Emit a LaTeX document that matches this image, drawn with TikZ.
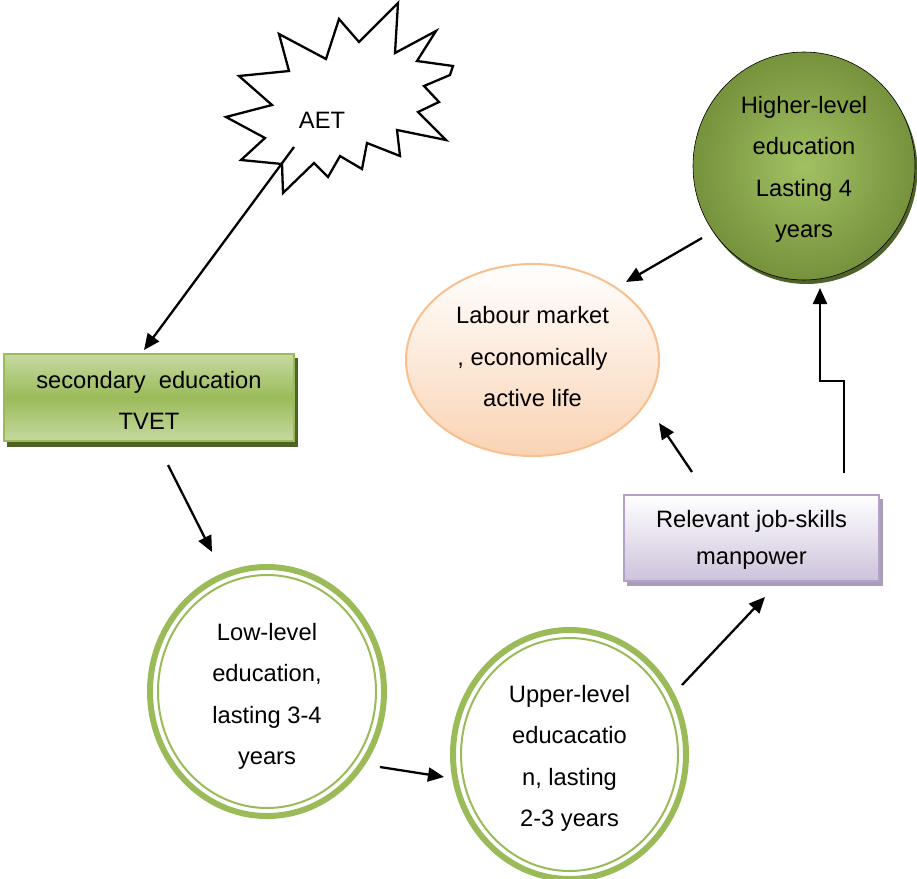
\documentclass[tikz,border=0pt]{standalone}
\usepackage{fontspec}
\setmainfont{Liberation Sans}
\usetikzlibrary{arrows.meta,shapes.geometric}
\definecolor{grn}{HTML}{9BBB59}
\definecolor{grnlt}{HTML}{C6D9A1}
\definecolor{grndk}{HTML}{4F6228}
\definecolor{grnmid}{HTML}{76923C}
\definecolor{grnhi}{HTML}{A2C163}
\definecolor{peach}{HTML}{F9BF8F}
\definecolor{peachlt}{HTML}{FAD3B3}
\definecolor{lav}{HTML}{B3A2C7}
\definecolor{lavlt}{HTML}{CDC2DB}
\definecolor{lavsh}{HTML}{A89CB8}
\begin{document}
\begin{tikzpicture}[x=1pt,y=-1pt,
  txt/.style={font=\fontsize{23.7}{41.5}\selectfont, align=center, text=black, inner sep=0pt},
  arr/.style={line width=2.3pt, -{Triangle[length=16pt,width=14pt]}},
  ringnode/.style={ellipse, draw=grn, line width=6pt, fill=white, inner sep=0pt},
  innerring/.style={draw=grn, line width=2pt},
  boxnode/.style={rectangle, inner sep=0pt, line width=2pt}
]
\useasboundingbox (0,0) rectangle (917,878);

% AET starburst
\draw[line width=2.3pt, fill=white, line join=miter]
 (398,3) -- (395,53) -- (436,31) -- (417,61) -- (453,66) -- (450,75) -- (424,86)
 -- (439,102) -- (418,112) -- (446,140) -- (397,130) -- (400,156) -- (367,143)
 -- (362,169) -- (340,156) -- (328,177) -- (314,163) -- (283,193) -- (282,164)
 -- (241,160) -- (265,138) -- (226,117) -- (272,105) -- (239,76) -- (289,71)
 -- (279,34) -- (326,59) -- (339,19) -- (359,42) -- cycle;
\node[txt] (aet) at (322,120) {AET};

% secondary education box
\fill[grndk] (7,358) rectangle (298,447);
\node[boxnode, draw=grn, top color=grnlt, bottom color=grnlt, middle color=grn,
  minimum width=290pt, minimum height=87pt] (sec) at (149,397.5) {};
\node[txt, yshift=-3pt] (sect) at (sec) {secondary\ \ education\\TVET};

% Low-level circle
\node[ringnode, minimum width=234pt, minimum height=249pt] (low) at (267,691.5) {};
\draw[innerring] (low.center) ellipse [x radius=109, y radius=116.5];
\node[txt, yshift=-5pt] (lowt) at (low) {Low-level\\education,\\lasting 3-4\\years};

% Upper-level circle
\node[ringnode, minimum width=233pt, minimum height=249pt] (up) at (569.5,754.5) {};
\draw[innerring] (up.center) ellipse [x radius=108.5, y radius=116.5];
\node[txt, yshift=-4pt] (upt) at (up) {Upper-level\\educacatio\\n, lasting\\2-3 years};

% Relevant job-skills box
\fill[lavsh] (627,499) rectangle (883,586);
\node[boxnode, draw=lav, top color=white, bottom color=lavlt,
  minimum width=255pt, minimum height=86pt] (rel) at (751.5,538) {};
\node[txt, font=\fontsize{23.7}{36.5}\selectfont, yshift=-2pt] (relt) at (rel)
  {Relevant job-skills\\manpower};

% Labour market ellipse
\node[ellipse, draw=peach, line width=2pt, top color=white, bottom color=peachlt,
  inner sep=0pt, minimum width=253pt, minimum height=192pt] (lab) at (532.5,360) {};
\node[txt, yshift=3pt] (labt) at (lab) {Labour market\\, economically\\active life};

% Higher-level circle
\fill[grndk] (806.5,170) ellipse [x radius=111, y radius=114];
\node[ellipse, draw=black, line width=0.6pt, inner color=grnhi, outer color=grnmid,
  inner sep=0pt, minimum width=222pt, minimum height=228pt] (hi) at (804,166) {};
\node[txt, yshift=-3.5pt] (hit) at (hi) {Higher-level\\education\\Lasting 4\\years};

% connector end points
\coordinate (a1s) at (294,147);  \coordinate (a1e) at (144,350);
\coordinate (a2s) at (168,465);  \coordinate (a2e) at (212,552);
\coordinate (a3s) at (380,767);  \coordinate (a3e) at (444,777);
\coordinate (a4s) at (682,685);  \coordinate (a4e) at (765,597);
\coordinate (a5s) at (692,472);  \coordinate (a5e) at (659,423);
\coordinate (a6s) at (844,473);  \coordinate (a6e) at (820,288);
\coordinate (a7s) at (702,238);  \coordinate (a7e) at (626,282);

\draw[arr] (a1s) -- (a1e);
\draw[arr] (a2s) -- (a2e);
\draw[arr] (a3s) -- (a3e);
\draw[arr] (a4s) -- (a4e);
\draw[arr] (a5s) -- (a5e);
\draw[arr] (a6s) -- (844,381) -- (820,381) -- (a6e);
\draw[arr] (a7s) -- (a7e);
\end{tikzpicture}
\end{document}
